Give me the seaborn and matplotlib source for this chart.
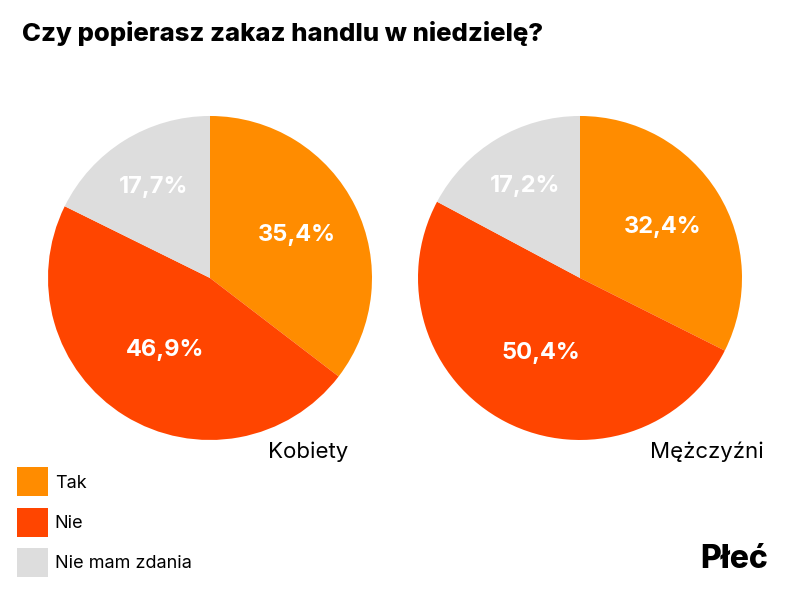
import matplotlib
matplotlib.use("Agg")
import matplotlib.pyplot as plt
import seaborn as sns
import numpy as np
from matplotlib.patches import Patch

# data
answers = ["Tak", "Nie", "Nie mam zdania"]
kobiety = [35.4, 46.9, 17.7]
mezczyzni = [32.4, 50.4, 17.2]
groups = ["Kobiety", "Mężczyźni"]
colors = ["#FF8C00", "#FF4500", "#DDDDDD"]

sns.set_theme(style="white")
plt.rcParams['font.family'] = ['Inter', 'DejaVu Sans']
plt.rcParams['text.color'] = 'black'

fig = plt.figure(figsize=(8, 6), dpi=100)

# label distance per wedge (inside pie)
label_dist = [0.6, 0.52, 0.66]

def draw_pie(ax, vals):
    wedges, _ = ax.pie(vals, colors=colors, startangle=90, counterclock=False,
                       wedgeprops=dict(linewidth=0))
    for w, v, d in zip(wedges, vals, label_dist):
        ang = np.deg2rad((w.theta1 + w.theta2) / 2)
        txt = f"{v:.1f}%".replace(".", ",")
        ax.text(d * np.cos(ang), d * np.sin(ang), txt, ha="center", va="center",
                color="white", fontsize=17, fontweight="bold")
    ax.set_xlim(-1, 1)
    ax.set_ylim(-1, 1)
    ax.set_aspect("equal")
    ax.axis("off")

ax1 = fig.add_axes([0.06, 0.2667, 0.405, 0.54])
ax2 = fig.add_axes([0.5225, 0.2667, 0.405, 0.54])
draw_pie(ax1, kobiety)
draw_pie(ax2, mezczyzni)

fig.text(0.0275, 0.945, "Czy popierasz zakaz handlu w niedzielę?", fontsize=18.5,
         fontweight="heavy", ha="left", va="center")
fig.text(0.435, 0.247, groups[0], fontsize=16, ha="right", va="center")
fig.text(0.955, 0.247, groups[1], fontsize=16, ha="right", va="center")
fig.text(0.96, 0.067, "Płeć", fontsize=23, fontweight="heavy", ha="right", va="center")

handles = [Patch(facecolor=c, edgecolor="none") for c in colors]
fig.legend(handles, answers, loc="upper left", bbox_to_anchor=(0.012, 0.233),
           frameon=False, fontsize=13, handlelength=1.7, handleheight=2.1,
           labelspacing=0.62, handletextpad=0.4, borderaxespad=0)

plt.savefig("out.png", dpi=100)
